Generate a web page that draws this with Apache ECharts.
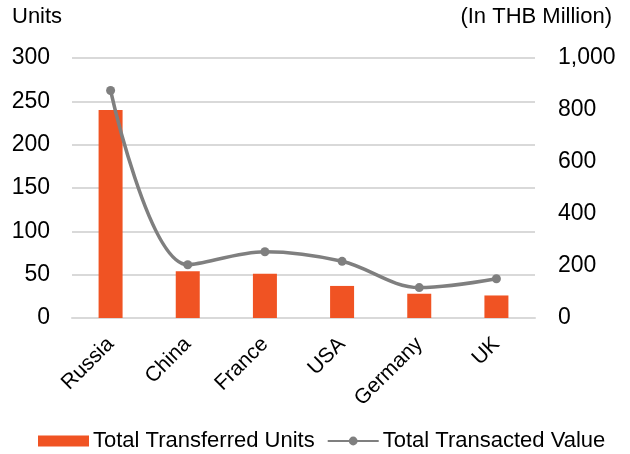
<!DOCTYPE html>
<html>
<head>
<meta charset="utf-8">
<script src="https://cdn.jsdelivr.net/npm/echarts@6/dist/echarts.min.js"></script>
<style>
  html, body { margin: 0; padding: 0; background: #fff; }
  #chart { width: 630px; height: 454px; }
</style>
</head>
<body>
<div id="chart"></div>
<script>
// Arms transfers by supplier country
const countries = ['Russia', 'China', 'France', 'USA', 'Germany', 'UK'];
const transferredUnits = [240, 54, 51, 37, 28, 26];
const transactedValue = [875, 205, 255, 218, 117, 151];
const unitTicks = { min: 0, max: 300, interval: 50 };
const valueTicks = { min: 0, max: 1000, interval: 200 };

const FONT = '"Liberation Sans", Arial, sans-serif';
const TEXT = '#000000';
const BAR = '#F05323';
const LINE = '#7F7F7F';
const GRID = '#D9D9D9';

const chart = echarts.init(document.getElementById('chart'), null, { renderer: 'canvas' });

chart.setOption({
  animation: false,
  textStyle: { fontFamily: FONT },
  grid: { left: 72, right: 95, top: 58, bottom: 136 },
  legend: {
    top: 425,
    left: 33,
    itemGap: 12,
    itemWidth: 51,
    itemHeight: 11,
    textStyle: { fontFamily: FONT, fontSize: 22, color: TEXT, padding: [0, 0, 0, -1] },
    data: [
      { name: 'Total Transferred Units', icon: 'rect' },
      { name: 'Total Transacted Value' }
    ]
  },
  xAxis: {
    type: 'category',
    data: countries,
    axisTick: { show: false },
    axisLine: { lineStyle: { color: GRID, width: 2 } },
    axisLabel: { rotate: 45, margin: 23, fontSize: 21, color: TEXT, fontFamily: FONT, interval: 0 }
  },
  yAxis: [
    {
      type: 'value',
      min: unitTicks.min, max: unitTicks.max, interval: unitTicks.interval,
      name: 'Units',
      nameLocation: 'end',
      nameGap: 30,
      nameTextStyle: { fontSize: 22, color: TEXT, fontFamily: FONT, align: 'left', padding: [0, 0, 0, -60] },
      axisLine: { show: false },
      axisTick: { show: false },
      axisLabel: { fontSize: 23, color: TEXT, fontFamily: FONT, margin: 22 },
      splitLine: { lineStyle: { color: GRID, width: 2 } }
    },
    {
      type: 'value',
      min: valueTicks.min, max: valueTicks.max, interval: valueTicks.interval,
      name: '(In THB Million)',
      nameLocation: 'end',
      nameGap: 30,
      nameTextStyle: { fontSize: 22, color: TEXT, fontFamily: FONT, align: 'right', padding: [0, -77, 0, 0] },
      axisLine: { show: false },
      axisTick: { show: false },
      axisLabel: {
        fontSize: 23, color: TEXT, fontFamily: FONT, margin: 23,
        formatter: v => v.toLocaleString('en-US')
      },
      splitLine: { show: false }
    }
  ],
  series: [
    {
      name: 'Total Transferred Units',
      type: 'bar',
      yAxisIndex: 0,
      data: transferredUnits,
      barWidth: 24,
      itemStyle: { color: BAR }
    },
    {
      name: 'Total Transacted Value',
      type: 'line',
      yAxisIndex: 1,
      data: transactedValue,
      smooth: 0.35,
      symbol: 'circle',
      symbolSize: 9,
      lineStyle: { color: LINE, width: 3.5 },
      itemStyle: { color: LINE }
    }
  ]
});
</script>
</body>
</html>
